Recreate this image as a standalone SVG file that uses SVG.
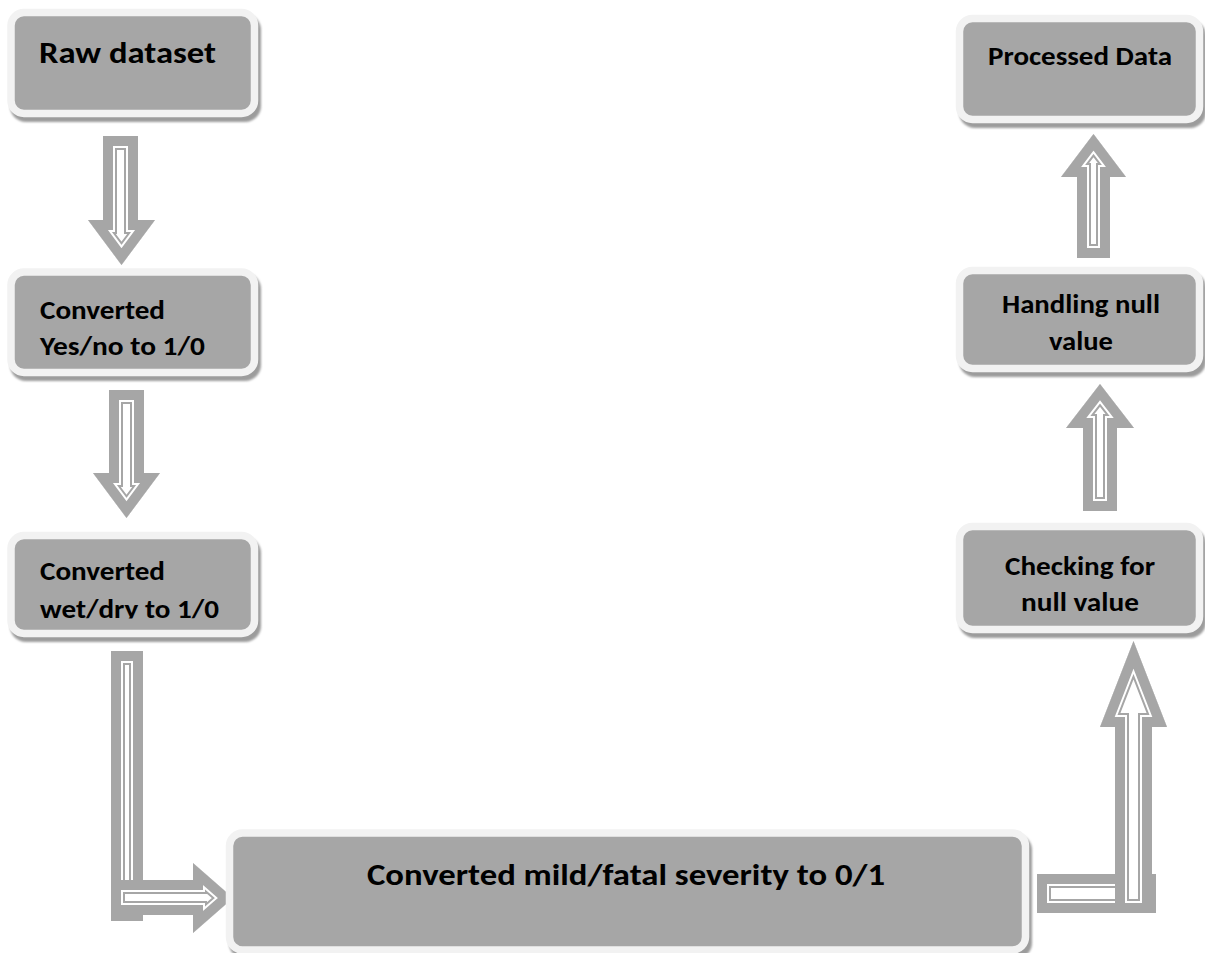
<svg xmlns="http://www.w3.org/2000/svg" xmlns:xlink="http://www.w3.org/1999/xlink" width="1205" height="953" viewBox="0 0 1205 953">
<style>
.bg{fill:#ffffff}
.shadow{fill:#9c9c9c;filter:url(#blur)}
.box{fill:#a6a6a6;stroke:#f2f2f2;stroke-width:7.5}
.t{font-family:Carlito,Lato,"Open Sans",sans-serif;font-weight:bold;fill:#000000}
.big{font-size:30px}
.mid{font-size:26px}
.af{fill:#ffffff}
.s1{fill:none;stroke:#a6a6a6;stroke-width:28;stroke-linejoin:miter;stroke-miterlimit:40}
.s2{fill:none;stroke:#ffffff;stroke-width:24;stroke-linejoin:miter;stroke-miterlimit:40}
.s3{fill:none;stroke:#a6a6a6;stroke-width:20;stroke-linejoin:miter;stroke-miterlimit:40}
</style>
<defs>
<filter id="blur" x="-5%" y="-10%" width="110%" height="120%"><feGaussianBlur stdDeviation="1.2"/></filter>
<path id="p1" d="M103,136 H138 V220 H155 L121.5,265 L88,220 H103 Z"/>
<path id="p2" d="M109,390 H144 V473 H160 L126.5,518 L93,473 H109 Z"/>
<path id="p3" d="M111,651 H143 V921 H111 Z"/>
<path id="p4" d="M111,880 H193 V863 L233,898 L193,933 V915 H111 Z"/>
<path id="p5" d="M1037,874 H1156 V913 H1037 Z"/>
<path id="p6" d="M1115,913 V727 H1100 L1133.5,641 L1167,727 H1152 V913 Z"/>
<path id="p7" d="M1083,511 V428 H1066 L1100,384 L1134,428 H1117 V511 Z"/>
<path id="p8" d="M1077,258 V177 H1061 L1093.5,134 L1126,177 H1110 V258 Z"/>
<clipPath id="c1"><use xlink:href="#p1"/></clipPath>
<clipPath id="c2"><use xlink:href="#p2"/></clipPath>
<clipPath id="c3"><use xlink:href="#p3"/></clipPath>
<clipPath id="c4"><use xlink:href="#p4"/></clipPath>
<clipPath id="c5"><use xlink:href="#p5"/></clipPath>
<clipPath id="c6"><use xlink:href="#p6"/></clipPath>
<clipPath id="c7"><use xlink:href="#p7"/></clipPath>
<clipPath id="c8"><use xlink:href="#p8"/></clipPath>
<clipPath id="clip3"><rect x="15" y="538" width="236" height="80.5"/></clipPath>
</defs>
<rect class="bg" x="0" y="0" width="1205" height="953"/>

<g id="connectors">
<g id="arrow-raw-to-yesno" clip-path="url(#c1)"><use xlink:href="#p1" class="af"/><use xlink:href="#p1" class="s1"/><use xlink:href="#p1" class="s2"/><use xlink:href="#p1" class="s3"/></g>
<g id="arrow-yesno-to-wetdry" clip-path="url(#c2)"><use xlink:href="#p2" class="af"/><use xlink:href="#p2" class="s1"/><use xlink:href="#p2" class="s2"/><use xlink:href="#p2" class="s3"/></g>
<g id="arrow-wetdry-down" clip-path="url(#c3)"><use xlink:href="#p3" class="af"/><use xlink:href="#p3" class="s1"/><use xlink:href="#p3" class="s2"/><use xlink:href="#p3" class="s3"/></g>
<g id="arrow-to-severity" clip-path="url(#c4)"><use xlink:href="#p4" class="af"/><use xlink:href="#p4" class="s1"/><use xlink:href="#p4" class="s2"/><use xlink:href="#p4" class="s3"/></g>
<g id="arrow-severity-right" clip-path="url(#c5)"><use xlink:href="#p5" class="af"/><use xlink:href="#p5" class="s1"/><use xlink:href="#p5" class="s2"/><use xlink:href="#p5" class="s3"/></g>
<g id="arrow-to-checking" clip-path="url(#c6)"><use xlink:href="#p6" class="af"/><use xlink:href="#p6" class="s1"/><use xlink:href="#p6" class="s2"/><use xlink:href="#p6" class="s3"/></g>
<g id="arrow-checking-to-handling" clip-path="url(#c7)"><use xlink:href="#p7" class="af"/><use xlink:href="#p7" class="s1"/><use xlink:href="#p7" class="s2"/><use xlink:href="#p7" class="s3"/></g>
<g id="arrow-handling-to-processed" clip-path="url(#c8)"><use xlink:href="#p8" class="af"/><use xlink:href="#p8" class="s1"/><use xlink:href="#p8" class="s2"/><use xlink:href="#p8" class="s3"/></g>
</g>

<g id="node-raw">
<rect class="shadow" x="10" y="14" width="251" height="108" rx="16"/>
<rect class="box" x="11" y="12.5" width="243.5" height="101" rx="13"/>
<text class="t big" x="39" y="63" textLength="177" lengthAdjust="spacingAndGlyphs">Raw dataset</text>
</g>

<g id="node-yesno">
<rect class="shadow" x="10" y="273" width="251" height="108" rx="16"/>
<rect class="box" x="11" y="272" width="243.5" height="100.5" rx="13"/>
<text class="t mid" x="40" y="319" textLength="125" lengthAdjust="spacingAndGlyphs">Converted</text>
<text class="t mid" x="40" y="355" textLength="165" lengthAdjust="spacingAndGlyphs">Yes/no to 1/0</text>
</g>

<g id="node-wetdry">
<rect class="shadow" x="10" y="537" width="251" height="105" rx="16"/>
<rect class="box" x="11" y="535.5" width="243.5" height="98" rx="13"/>
<g clip-path="url(#clip3)">
<text class="t mid" x="40" y="580" textLength="125" lengthAdjust="spacingAndGlyphs">Converted</text>
<text class="t mid" x="40" y="618" textLength="179" lengthAdjust="spacingAndGlyphs">wet/dry to 1/0</text>
</g>
</g>

<g id="node-severity">
<rect class="shadow" x="229" y="834" width="803" height="125" rx="16"/>
<rect class="box" x="229.5" y="833" width="796" height="117" rx="13"/>
<text class="t big" x="367" y="885" textLength="518" lengthAdjust="spacingAndGlyphs">Converted mild/fatal severity to 0/1</text>
</g>

<g id="node-checking">
<rect class="shadow" x="959" y="528" width="247" height="110" rx="16"/>
<rect class="box" x="959.5" y="526.5" width="240" height="103" rx="13"/>
<text class="t mid" x="1005" y="575" textLength="150" lengthAdjust="spacingAndGlyphs">Checking for</text>
<text class="t mid" x="1021" y="611" textLength="118" lengthAdjust="spacingAndGlyphs">null value</text>
</g>

<g id="node-handling">
<rect class="shadow" x="959" y="272" width="247" height="105" rx="16"/>
<rect class="box" x="959.5" y="270.5" width="240" height="98" rx="13"/>
<text class="t mid" x="1002" y="313" textLength="158" lengthAdjust="spacingAndGlyphs">Handling null</text>
<text class="t mid" x="1049" y="350" textLength="64" lengthAdjust="spacingAndGlyphs">value</text>
</g>

<g id="node-processed">
<rect class="shadow" x="959" y="20" width="247" height="108" rx="16"/>
<rect class="box" x="959.5" y="18.5" width="240" height="101" rx="13"/>
<text class="t mid" x="988" y="65" textLength="184" lengthAdjust="spacingAndGlyphs">Processed Data</text>
</g>
</svg>
